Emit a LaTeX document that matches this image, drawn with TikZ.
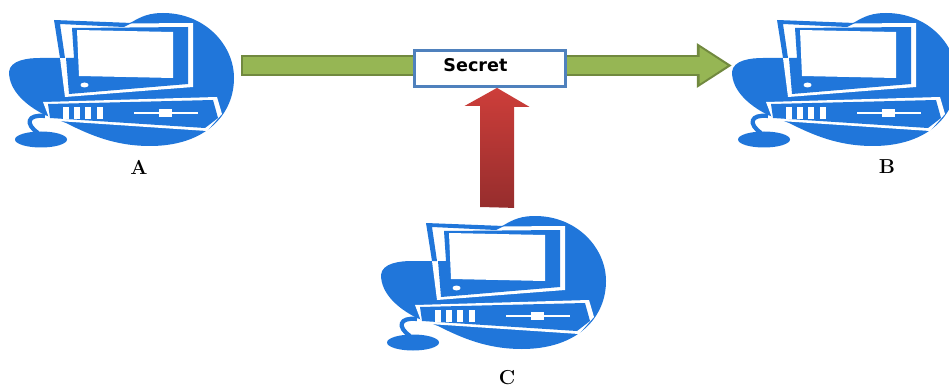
\documentclass[tikz,border=0pt]{standalone}
\usepackage{fontspec}
\usetikzlibrary{positioning}
\usetikzlibrary{arrows.meta}
\newfontfamily\boxfont{DejaVu Sans}
\definecolor{pcblue}{RGB}{32,118,218}
\definecolor{boxblue}{RGB}{79,129,189}
\definecolor{greenfill}{RGB}{150,182,84}
\definecolor{greenline}{RGB}{113,137,63}
\definecolor{redtop}{RGB}{205,62,58}
\definecolor{redbot}{RGB}{150,45,45}

\tikzset{
  pclabel/.style={font=\fontsize{11.5}{13}\selectfont\bfseries, inner sep=0pt},
  secretbox/.style={draw=boxblue, line width=1.6pt, fill=white, minimum width=151*0.02cm,
                    minimum height=36*0.02cm, inner sep=0pt},
  pcpart/.style={fill=pcblue},
  pcgap/.style={fill=white},
}

% One computer, in pixel units of the first one
\newcommand{\drawcomputer}{
  % Blob behind the machine
  \fill[pcpart] (9,72) .. controls (10,60) and (28,58) .. (40,58) -- (60,58) -- (132,22)
     .. controls (142,16) and (150,13) .. (163,13) .. controls (205,13) and (234,45) .. (234,78)
     .. controls (234,115) and (205,146) .. (150,146) .. controls (115,146) and (90,135) .. (66,123)
     -- (45,115) .. controls (25,105) and (9,90) .. (9,72) -- cycle;

  % Monitor
  \fill[pcgap] (59,24) -- (193,23) -- (193,87) -- (65,97) -- (60,58) -- cycle;
  \fill[pcpart] (54,20) -- (132,23) -- (124,27) -- (60,24) -- (65,58) -- (60,58) -- cycle;
  \fill[pcpart] (72,28) -- (188,27) -- (188,84) -- (69,94) -- (66,58) -- (74,58) -- cycle;
  \fill[pcgap] (77,30) -- (173,32) -- (173,78) -- (79,76) -- cycle;
  \fill[pcgap] (84.5,85) ellipse [x radius=4, y radius=2.5];

  % Desktop case
  \fill[pcgap] (43,102) -- (217,97) -- (222,114) -- (207,131) -- (50,120.5) -- cycle;
  \fill[pcpart] (48,104) -- (213,100) -- (218,118) -- (205,128) -- (50,118) -- cycle;
  \foreach \xb in {63,74,85,97}
    \fill[pcgap] (\xb,107) rectangle ++(5.5,12);
  \draw[white, line width=1.5pt] (134,113) -- (198,113);
  \fill[pcgap] (159,109) rectangle (172,117);

  % Mouse
  \draw[pcblue, line width=2.4pt] (45,116) .. controls (27,114) and (25,124) .. (38,133);
  \fill[pcpart] (41,139.5) ellipse [x radius=26, y radius=8];
}

\begin{document}
\begin{tikzpicture}[x=0.02cm,y=-0.02cm]

\useasboundingbox (0,0) rectangle (949,388);

%---------------------------------------
% Computers
%---------------------------------------
\begin{scope}
  \drawcomputer
\end{scope}
\begin{scope}[shift={(723,0)}]
  \drawcomputer
\end{scope}
\begin{scope}[shift={(372,203)}]
  \drawcomputer
\end{scope}

\node[pclabel] (labelA) at (139,167) {A};
\node[pclabel] (labelB) at (887,167) {B};
\node[pclabel] (labelC) at (507,378) {C};

%---------------------------------------
% Arrows
%---------------------------------------
\coordinate (senderA) at (241,65.5);
\coordinate (receiverB) at (732,65.5);
\coordinate (spyC) at (497,207);
\coordinate (secretpos) at (490,68.5);

% Green arrow A to B, outline first
\draw[greenline, line width=12pt, -{Triangle[length=20pt,width=24pt]}] (senderA) -- (receiverB);
\draw[greenfill, line width=9.6pt, shorten >=2.4pt, -{Triangle[length=16pt,width=19.5pt]}]
      ([xshift=1.3pt]senderA) -- (receiverB);

% Box on top of the arrow
\node[secretbox] (secret) at (secretpos) {};
\node[font=\boxfont\bfseries\fontsize{10}{12}\selectfont, inner sep=0pt, right=30*0.02cm of secret.west,
      yshift=2pt] (secrettext) {Secret};

% Red arrow from C up to the box
\path[top color=redtop, bottom color=redbot, draw=none]
      (spyC) ++(-17,0) -- ++(0,-101) -- ++(-15.5,0) -- (spyC |- secret.south)
      -- ++(32.5,19) -- ++(-15.5,0) -- ++(0,101) -- cycle;

\end{tikzpicture}
\end{document}
